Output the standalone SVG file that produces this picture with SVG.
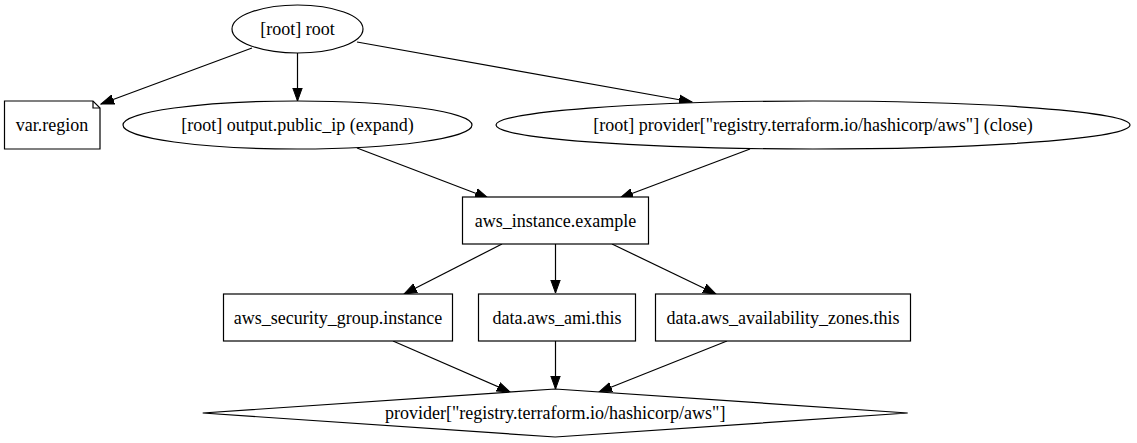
<svg xmlns="http://www.w3.org/2000/svg" width="1137" height="443" viewBox="0 0 1137 443">
<style>
  .shape { fill: #ffffff; stroke: #000000; stroke-width: 1.2; }
  .label { font-family: "Liberation Serif", "Times New Roman", serif; font-size: 18px; fill: #000000; text-anchor: middle; }
  .edge { fill: none; stroke: #000000; stroke-width: 1.2; }
</style>
<defs>
  <marker id="arrow" markerUnits="userSpaceOnUse" markerWidth="14" markerHeight="11" refX="13" refY="4.7" orient="auto" viewBox="0 0 14 9.4">
    <path d="M0,0 L13,4.7 L0,9.4 z" fill="#000000" stroke="#000000" stroke-width="1"/>
  </marker>
</defs>
<rect x="0" y="0" width="1137" height="443" fill="#ffffff"/>
<g id="connectors">
  <line class="edge" x1="252" y1="48" x2="101" y2="104" marker-end="url(#arrow)"/>
  <line class="edge" x1="297.5" y1="53" x2="297.5" y2="101" marker-end="url(#arrow)"/>
  <line class="edge" x1="357" y1="42" x2="692" y2="102" marker-end="url(#arrow)"/>
  <line class="edge" x1="357" y1="148" x2="488" y2="198" marker-end="url(#arrow)"/>
  <line class="edge" x1="750" y1="149" x2="620" y2="198" marker-end="url(#arrow)"/>
  <line class="edge" x1="502" y1="244" x2="404" y2="294" marker-end="url(#arrow)"/>
  <line class="edge" x1="555.5" y1="244" x2="555.5" y2="293" marker-end="url(#arrow)"/>
  <line class="edge" x1="612" y1="244" x2="716" y2="294" marker-end="url(#arrow)"/>
  <line class="edge" x1="393" y1="341" x2="510" y2="392" marker-end="url(#arrow)"/>
  <line class="edge" x1="555.5" y1="341" x2="555.5" y2="389" marker-end="url(#arrow)"/>
  <line class="edge" x1="727" y1="341" x2="599" y2="392" marker-end="url(#arrow)"/>
</g>
<g id="node-root">
  <ellipse class="shape" cx="297.5" cy="29" rx="65.5" ry="24"/>
  <text class="label" x="297.5" y="35">[root] root</text>
</g>
<g id="node-var-region">
  <path class="shape" d="M4.5,101 L93,101 L100,108 L100,149 L4.5,149 Z"/>
  <path class="edge" d="M93,101 L93,108 L100,108"/>
  <text class="label" x="52" y="131">var.region</text>
</g>
<g id="node-output-public-ip">
  <ellipse class="shape" cx="297.5" cy="125" rx="174.5" ry="24"/>
  <text class="label" x="297.5" y="131">[root] output.public_ip (expand)</text>
</g>
<g id="node-provider-close">
  <ellipse class="shape" cx="813" cy="125" rx="317" ry="24"/>
  <text class="label" x="813" y="131">[root] provider["registry.terraform.io/hashicorp/aws"] (close)</text>
</g>
<g id="node-aws-instance">
  <rect class="shape" x="462.5" y="197" width="186" height="47"/>
  <text class="label" x="555.5" y="226.5">aws_instance.example</text>
</g>
<g id="node-security-group">
  <rect class="shape" x="223.5" y="294" width="229" height="47"/>
  <text class="label" x="338" y="323.5">aws_security_group.instance</text>
</g>
<g id="node-ami">
  <rect class="shape" x="478.5" y="294" width="157" height="47"/>
  <text class="label" x="557" y="323.5">data.aws_ami.this</text>
</g>
<g id="node-az">
  <rect class="shape" x="655.5" y="294" width="255" height="47"/>
  <text class="label" x="783" y="323.5">data.aws_availability_zones.this</text>
</g>
<g id="node-provider">
  <polygon class="shape" points="555.2,389 907.7,413 555.2,437 202.7,413"/>
  <text class="label" x="555.2" y="419">provider["registry.terraform.io/hashicorp/aws"]</text>
</g>
</svg>
